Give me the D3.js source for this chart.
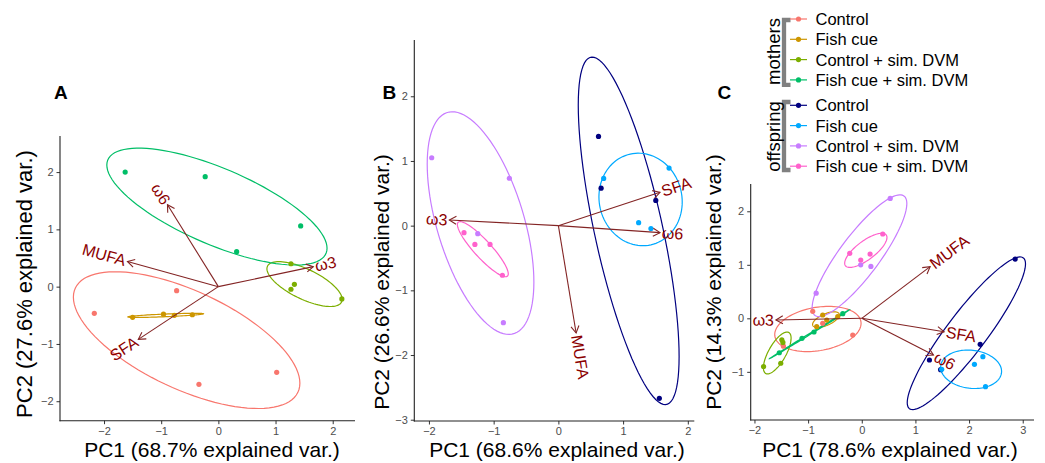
<!DOCTYPE html>
<html>
<head>
<meta charset="utf-8">
<script src="https://cdn.jsdelivr.net/npm/d3@7"></script>
<style>
  body { margin: 0; background: #fff; }
  svg text { font-family: "Liberation Sans", Arial, sans-serif; }
</style>
</head>
<body>
<div id="chart"></div>
<script>
// treatment groups and colours
const groups = ["Control", "Fish cue", "Control + sim. DVM", "Fish cue + sim. DVM"];
const motherColors = ["#F8766D", "#CD9600", "#7CAE00", "#00BE67"];
const offspringColors = ["#000080", "#00A9FF", "#C77CFF", "#FF61CC"];

// PCA scores: [group, PC1, PC2]
const scoresA = [
  ["Control", -2.17, -0.465], ["Control", -0.73, -0.07], ["Control", -0.34, -1.705], ["Control", 1.02, -1.495],
  ["Fish cue", -1.50, -0.535], ["Fish cue", -0.96, -0.48], ["Fish cue", -0.77, -0.50], ["Fish cue", -0.455, -0.49],
  ["Control + sim. DVM", 1.27, 0.40], ["Control + sim. DVM", 1.33, 0.04], ["Control + sim. DVM", 1.27, -0.045], ["Control + sim. DVM", 2.16, -0.215],
  ["Fish cue + sim. DVM", -1.63, 2.0], ["Fish cue + sim. DVM", -0.23, 1.92], ["Fish cue + sim. DVM", 1.44, 1.06], ["Fish cue + sim. DVM", 0.32, 0.61]
];
const scoresB = [
  ["Control", 0.62, 1.38], ["Control", 0.66, 0.58], ["Control", 1.505, 0.39], ["Control", 1.56, -2.67],
  ["Fish cue", 0.70, 0.73], ["Fish cue", 1.71, 0.89], ["Fish cue", 1.24, 0.046], ["Fish cue", 1.43, -0.046],
  ["Control + sim. DVM", -1.957, 1.05], ["Control + sim. DVM", -0.757, 0.733], ["Control + sim. DVM", -0.85, -1.50], ["Control + sim. DVM", -1.246, -0.124],
  ["Fish cue + sim. DVM", -1.458, -0.108], ["Fish cue + sim. DVM", -1.29, -0.29], ["Fish cue + sim. DVM", -1.056, -0.29], ["Fish cue + sim. DVM", -0.865, -0.767]
];
const scoresCMothers = [
  ["Control", -0.914, 0.13], ["Control", -0.728, -0.094], ["Control", -0.168, -0.312], ["Control", -1.46, -0.52],
  ["Fish cue", -0.728, 0.062], ["Fish cue", -0.653, -0.032], ["Fish cue", -0.84, -0.157], ["Fish cue", -0.448, 0.03],
  ["Control + sim. DVM", -1.49, -0.40], ["Control + sim. DVM", -1.47, -0.45], ["Control + sim. DVM", -1.83, -0.90], ["Control + sim. DVM", -1.51, -0.84],
  ["Fish cue + sim. DVM", -1.537, -0.643], ["Fish cue + sim. DVM", -1.114, -0.374], ["Fish cue + sim. DVM", -0.89, -0.256], ["Fish cue + sim. DVM", -0.354, 0.086]
];
const scoresCOffspring = [
  ["Control", 2.86, 1.108], ["Control", 2.207, -0.486], ["Control", 1.261, -0.779], ["Control", 1.47, -0.96],
  ["Fish cue", 1.49, -0.953], ["Fish cue", 2.10, -0.86], ["Fish cue", 2.257, -0.717], ["Fish cue", 2.306, -1.278],
  ["Control + sim. DVM", 0.53, 2.24], ["Control + sim. DVM", -0.85, 0.47], ["Control + sim. DVM", 0.17, 0.97], ["Control + sim. DVM", -0.02, 1.0],
  ["Fish cue + sim. DVM", 0.391, 1.576], ["Fish cue + sim. DVM", -0.224, 1.215], ["Fish cue + sim. DVM", 0.155, 1.20], ["Fish cue + sim. DVM", -0.019, 1.09]
];

// loadings (arrow tips): [variable, PC1, PC2]
const loadingsA = [["ω6", -0.89, 1.43], ["MUFA", -1.59, 0.44], ["ω3", 1.66, 0.35], ["SFA", -1.40, -0.92]];
const loadingsB = [["ω3", -1.685, 0.088], ["SFA", 1.57, 0.516], ["ω6", 1.57, -0.108], ["MUFA", 0.274, -1.66]];
const loadingsC = [["ω3", -1.6, -0.03], ["MUFA", 1.274, 0.965], ["SFA", 1.535, -0.25], ["ω6", 1.336, -0.686]];

// explained variance (%)
const explainedA = [68.7, 27.6];
const explainedB = [68.6, 26.6];
const explainedC = [78.6, 14.3];

// tick values
const xTicksA = [-2, -1, 0, 1, 2], yTicksA = [-2, -1, 0, 1, 2];
const xTicksB = [-2, -1, 0, 1, 2], yTicksB = [-3, -2, -1, 0, 1, 2];
const xTicksC = [-2, -1, 0, 1, 2, 3], yTicksC = [-1, 0, 1, 2];

const width = 1045, height = 463;
const svg = d3.select("#chart").append("svg")
  .attr("width", width).attr("height", height);

const arrowColor = "#832424";
const labelColor = "#8B0000";
const ed = Math.sqrt(-2 * Math.log(1 - 0.68)); // sqrt(qchisq(0.68, 2))

// normal-theory ellipse around a group of points (as in ggbiplot)
function ellipsePoints(pts) {
  const n = pts.length;
  const mx = d3.mean(pts, d => d[1]), my = d3.mean(pts, d => d[2]);
  let sxx = 0, syy = 0, sxy = 0;
  pts.forEach(d => {
    sxx += (d[1] - mx) ** 2; syy += (d[2] - my) ** 2; sxy += (d[1] - mx) * (d[2] - my);
  });
  sxx /= (n - 1); syy /= (n - 1); sxy /= (n - 1);
  const r11 = Math.sqrt(sxx), r12 = sxy / r11, r22 = Math.sqrt(Math.max(syy - r12 * r12, 0));
  return d3.range(100).map(i => {
    const t = 2 * Math.PI * i / 100;
    const c = Math.cos(t), s = Math.sin(t);
    return [mx + ed * c * r11, my + ed * (c * r12 + s * r22)];
  });
}

function drawPanel(cfg) {
  const x = d3.scaleLinear().domain(cfg.xDomain).range([cfg.left, cfg.right]);
  const y = d3.scaleLinear().domain(cfg.yDomain).range([cfg.bottom, cfg.top]);
  const g = svg.append("g");
  const fmt = d3.format("~g");

  // axes
  const xAxis = g.append("g").attr("transform", `translate(0,${cfg.bottom})`)
    .call(d3.axisBottom(x).tickValues(cfg.xTicks).tickFormat(fmt).tickSize(3.5).tickPadding(3));
  const yAxis = g.append("g").attr("transform", `translate(${cfg.left},0)`)
    .call(d3.axisLeft(y).tickValues(cfg.yTicks).tickFormat(fmt).tickSize(3.5).tickPadding(3));
  [xAxis, yAxis].forEach(a => {
    a.select(".domain").attr("d", null);
    a.selectAll(".tick line").attr("stroke", "#333").attr("stroke-width", 1);
    a.selectAll(".tick text").attr("fill", "#4D4D4D").style("font-size", "11px")
      .style("font-family", "'Liberation Sans', Arial, sans-serif");
  });
  g.append("line").attr("x1", cfg.left).attr("x2", cfg.left).attr("y1", cfg.top).attr("y2", cfg.bottom + 0.5)
    .attr("stroke", "#222").attr("stroke-width", 1.1);
  g.append("line").attr("x1", cfg.left - 0.5).attr("x2", cfg.right).attr("y1", cfg.bottom).attr("y2", cfg.bottom)
    .attr("stroke", "#222").attr("stroke-width", 1.1);

  // axis titles
  g.append("text").attr("x", cfg.xTitleX).attr("y", 457)
    .attr("text-anchor", "middle").style("font-size", "21px").attr("fill", "#000")
    .text(`PC1 (${cfg.explained[0]}% explained var.)`);
  g.append("text")
    .attr("transform", `translate(${cfg.yTitleX},${cfg.yTitleY}) rotate(-90)`)
    .attr("text-anchor", "middle").style("font-size", cfg.yTitleSize).attr("fill", "#000")
    .text(`PC2 (${cfg.explained[1]}% explained var.)`);

  const line = d3.line().x(d => x(d[0])).y(d => y(d[1])).curve(d3.curveLinearClosed);

  // ellipses and points, one layer for each set of groups
  cfg.layers.forEach(layer => {
    groups.forEach((grp, i) => {
      const pts = layer.scores.filter(d => d[0] === grp);
      g.append("path").attr("d", line(ellipsePoints(pts)))
        .attr("fill", "none").attr("stroke", layer.colors[i]).attr("stroke-width", 1.2);
    });
  });
  cfg.layers.forEach(layer => {
    g.append("g").selectAll("circle").data(layer.scores).enter().append("circle")
      .attr("cx", d => x(d[1])).attr("cy", d => y(d[2])).attr("r", 2.6)
      .attr("fill", d => layer.colors[groups.indexOf(d[0])]);
  });

  // loading arrows
  const x0 = x(0), y0 = y(0);
  cfg.loadings.forEach(d => {
    const tx = x(d[1]), ty = y(d[2]);
    const ang = Math.atan2(ty - y0, tx - x0);
    const hl = 8, ha = Math.PI / 6;
    g.append("line").attr("x1", x0).attr("y1", y0).attr("x2", tx).attr("y2", ty)
      .attr("stroke", arrowColor).attr("stroke-width", 1.1);
    g.append("path")
      .attr("d", `M${tx - hl * Math.cos(ang - ha)},${ty - hl * Math.sin(ang - ha)}L${tx},${ty}L${tx - hl * Math.cos(ang + ha)},${ty - hl * Math.sin(ang + ha)}`)
      .attr("fill", "none").attr("stroke", arrowColor).attr("stroke-width", 1.1);
    const deg = Math.atan(d[2] / d[1]) * 180 / Math.PI;
    g.append("text")
      .attr("transform", `translate(${tx},${ty}) rotate(${-deg})`)
      .attr("text-anchor", d[1] > 0 ? "start" : "end")
      .attr("dx", d[1] > 0 ? 2 : -2)
      .attr("dominant-baseline", "central")
      .style("font-size", "16px").attr("fill", labelColor)
      .text(d[0]);
  });
}

drawPanel({
  left: 60, right: 355, top: 136, bottom: 420.7,
  xDomain: [-2.77, 2.39], yDomain: [-2.34, 2.63],
  xTicks: xTicksA, yTicks: yTicksA, explained: explainedA,
  xTitleX: 212, yTitleX: 31.5, yTitleY: 284, yTitleSize: "22px",
  layers: [{ scores: scoresA, colors: motherColors }], loadings: loadingsA
});
drawPanel({
  left: 414.3, right: 694.3, top: 40, bottom: 421,
  xDomain: [-2.226, 2.10], yDomain: [-3.02, 2.87],
  xTicks: xTicksB, yTicks: yTicksB, explained: explainedB,
  xTitleX: 557, yTitleX: 389, yTitleY: 282, yTitleSize: "21px",
  layers: [{ scores: scoresB, colors: offspringColors }], loadings: loadingsB
});
drawPanel({
  left: 750.7, right: 1034, top: 184, bottom: 420,
  xDomain: [-2.07, 3.21], yDomain: [-1.90, 2.51],
  xTicks: xTicksC, yTicks: yTicksC, explained: explainedC,
  xTitleX: 890, yTitleX: 721, yTitleY: 282, yTitleSize: "21px",
  layers: [{ scores: scoresCMothers, colors: motherColors }, { scores: scoresCOffspring, colors: offspringColors }],
  loadings: loadingsC
});

// panel letters
[["A", 54], ["B", 382.5], ["C", 717.5]].forEach(([t, px]) => {
  svg.append("text").attr("x", px).attr("y", 99).style("font-size", "19px")
    .style("font-weight", "bold").attr("fill", "#000").text(t);
});

// legend
const legend = svg.append("g");
const legendSets = [
  { title: "mothers", colors: motherColors, y0: 19, bracket: [20, 84.8], titleY: 51.5 },
  { title: "offspring", colors: offspringColors, y0: 105.3, bracket: [102, 170], titleY: 136.5 }
];
const rowStep = 20.3;
legendSets.forEach(set => {
  legend.append("path")
    .attr("d", `M790.5,${set.bracket[0]}H784V${set.bracket[1]}H790.5`)
    .attr("fill", "none").attr("stroke", "#808080").attr("stroke-width", 4.3);
  legend.append("text")
    .attr("transform", `translate(780,${set.titleY}) rotate(-90)`)
    .attr("text-anchor", "middle").style("font-size", "18.5px").attr("fill", "#000")
    .text(set.title);
  groups.forEach((grp, i) => {
    const yy = set.y0 + i * rowStep;
    legend.append("line").attr("x1", 790).attr("x2", 807).attr("y1", yy).attr("y2", yy)
      .attr("stroke", set.colors[i]).attr("stroke-width", 1.2);
    legend.append("circle").attr("cx", 798.5).attr("cy", yy).attr("r", 2.6).attr("fill", set.colors[i]);
    legend.append("text").attr("x", 815.5).attr("y", yy).attr("dominant-baseline", "central")
      .style("font-size", "16.5px").attr("fill", "#000").text(grp);
  });
});
</script>
</body>
</html>
